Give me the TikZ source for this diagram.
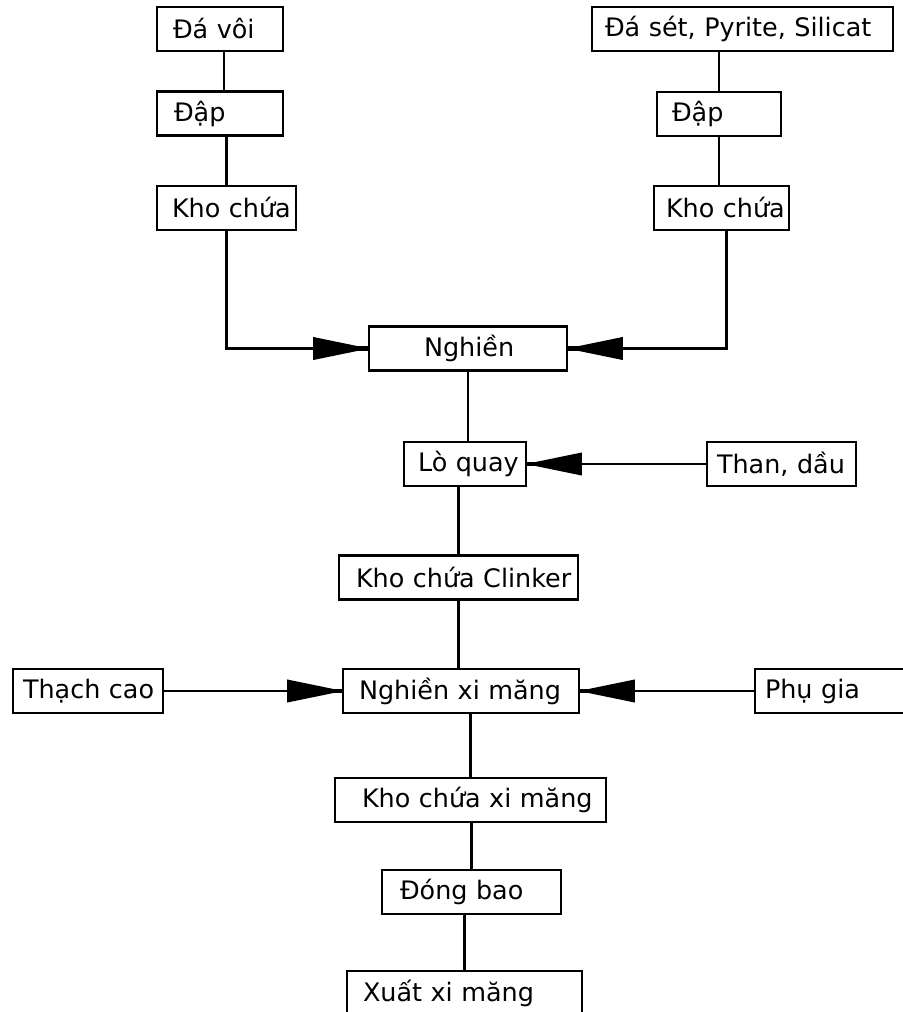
\documentclass[tikz,border=0pt]{standalone}
\usepackage{fontspec}
\setmainfont{DejaVu Sans}
\usetikzlibrary{arrows.meta}
\newlength\pxu
\setlength\pxu{0.025cm}
\begin{document}
\begin{tikzpicture}[x=\pxu, y=-\pxu, line width=1.5pt,
    box/.style 2 args={draw, inner xsep=0pt, inner ysep=0pt, minimum height=44\pxu,
        text width=#1\pxu, font=\fontsize{18.1}{21}\selectfont,
        execute at begin node={\hspace*{#2\pxu}\hbox\bgroup}, execute at end node={\egroup}},
    flow/.style={-{Triangle[length=40pt,width=16pt,sep=-9pt]Rectangle[length=8pt,width=3.5pt,sep=0pt]}}]
    \useasboundingbox (0,0) rectangle (902,1012);
    \node[box={126}{16}] (davoi) at (220,29) {Đá vôi};
    \node[box={126}{17}] (dap1) at (220,113.5) {Đập};
    \node[box={139}{15}] (kho1) at (226.5,208) {Kho chứa};
    \node[box={301}{13}] (daset) at (742.5,29) {Đá sét, Pyrite, Silicat};
    \node[box={124}{15}] (dap2) at (719,114) {Đập};
    \node[box={135}{12}] (kho2) at (721.5,208) {Kho chứa};
    \node[box={198}{55}] (nghien) at (468,348.5) {Nghiền};
    \node[box={122}{14}] (loquay) at (465,464) {Lò quay};
    \node[box={149}{10}] (than) at (781.5,464) {Than, dầu};
    \node[box={239}{17}] (clinker) at (458.5,577.5) {Kho chứa Clinker};
    \node[box={150}{10}] (thach) at (88,691) {Thạch cao};
    \node[box={236}{16}] (nxm) at (461,691) {Nghiền xi măng};
    \node[box={160}{10}] (phugia) at (835,691) {Phụ gia};
    \node[box={271}{27}] (khoxm) at (470.5,800) {Kho chứa xi măng};
    \node[box={179}{18}] (dongbao) at (471.5,892) {Đóng bao};
    \node[box={235}{16}] (xuat) at (464.5,993) {Xuất xi măng};
    \draw ([xshift=4\pxu]davoi.south) -- ([xshift=4\pxu]dap1.north);
    \draw (kho1.north |- dap1.south) -- (kho1.north);
    \draw (dap2.north |- daset.south) -- (dap2.north);
    \draw (dap2.south) -- (dap2.south |- kho2.north);
    \draw[flow] (kho1) |- (nghien);
    \draw[flow] ([xshift=5\pxu]kho2.south) |- (nghien);
    \draw (nghien.south) -- (nghien.south |- loquay.north);
    \draw[flow] (than) -- (loquay);
    \draw (clinker.north |- loquay.south) -- (clinker.north);
    \draw (clinker.south) -- (clinker.south |- nxm.north);
    \draw[flow] (thach) -- (nxm);
    \draw[flow] (phugia) -- (nxm);
    \draw (khoxm.north |- nxm.south) -- (khoxm.north);
    \draw (dongbao.north |- khoxm.south) -- (dongbao.north);
    \draw (xuat.north |- dongbao.south) -- (xuat.north);
\end{tikzpicture}
\end{document}
